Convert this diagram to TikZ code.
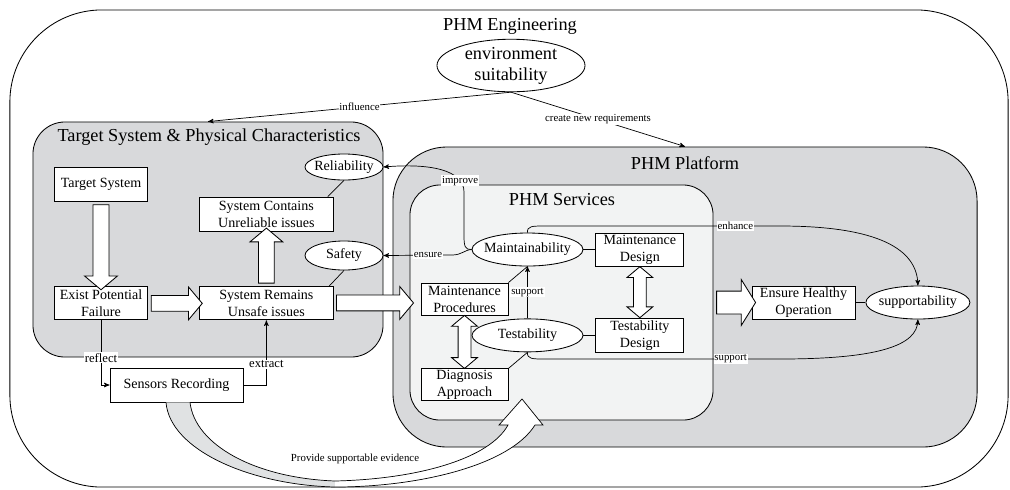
\documentclass[tikz,border=0pt]{standalone}
\usepackage{fontspec}
\setmainfont{Liberation Serif}
\usetikzlibrary{positioning,arrows,calc,shapes,shapes.geometric,shapes.arrows}

\definecolor{platgray}{RGB}{216,217,219}
\definecolor{servgray}{RGB}{242,243,243}
\definecolor{bandgray}{RGB}{224,226,227}

\begin{document}
\begin{tikzpicture}[>=stealth',
  x=0.025cm,y=-0.025cm,line width=0.6pt,align=center,
  area/.style={draw,rectangle,inner sep=0pt},
  box/.style={draw,rectangle,inner sep=1pt,fill=white,font=\fontsize{10}{12}\selectfont},
  oval/.style={draw,ellipse,inner ysep=0pt,inner xsep=-3pt,fill=white,font=\fontsize{10}{12}\selectfont},
  title/.style={font=\fontsize{13}{15}\selectfont},
  lbl/.style={fill=white,inner sep=0.6pt,font=\fontsize{7.7}{9}\selectfont},
  biglbl/.style={lbl,font=\fontsize{9}{10}\selectfont},
  link/.style={line width=0.5pt},
  fat/.style={draw,fill=white,single arrow,inner sep=0pt,text height=0.375cm,text depth=0pt,
    single arrow head extend=0.2125cm,single arrow tip angle=100},
  fatboth/.style={draw,fill=white,double arrow,inner sep=0pt,text height=0.3cm,text depth=0pt,
    double arrow head extend=0.1625cm,double arrow tip angle=100}
  ]
  \useasboundingbox (0,0) rectangle (1010,489);

  % containers
  \node[area,rounded corners=2.3cm,minimum width=24.95cm,minimum height=11.925cm] (phmeng) at (509,248.5) {};
  \node[title] at (510,26) {PHM Engineering};
  \node[area,fill=platgray,rounded corners=0.8cm,minimum width=8.75cm,minimum height=5.875cm] (tsbox) at (208,239.5) {};
  \node[title] at (209,137) {Target System \& Physical Characteristics};
  \node[area,fill=platgray,rounded corners=1.35cm,minimum width=14.6cm,minimum height=7.5cm] (platbox) at (685,297) {};
  \node[title] at (685,163) {PHM Platform};
  \node[area,fill=servgray,rounded corners=0.75cm,minimum width=7.575cm,minimum height=5.875cm] (servbox) at (561.5,302.5) {};
  \node[title] at (562,200) {PHM Services};

  \node[oval,title,minimum width=3.7cm,minimum height=1.3cm] (envsuit) at (511,65.5) {environment\\suitability};

  % target system side
  \node[box,minimum width=2.325cm,minimum height=0.85cm] (target) at (101,184) {Target System};
  \node[box,minimum width=2.325cm,minimum height=0.825cm,below=2.125cm of target] (failure) {Exist Potential\\Failure};
  \node[box,minimum width=3.35cm,minimum height=0.825cm,right=1.275cm of failure] (unsafe) {System Remains\\Unsafe issues};
  \node[box,minimum width=3.35cm,minimum height=0.85cm,above=1.375cm of unsafe] (unreliable) {System Contains\\Unreliable issues};
  \node[oval,minimum width=1.95cm,minimum height=0.65cm] (reliab) at (344,167) {Reliability};
  \node[oval,minimum width=1.95cm,minimum height=0.725cm] (safety) at (344,255.5) {Safety};
  \node[box,minimum width=3.325cm,minimum height=0.85cm] (sensors) at (176.5,385) {Sensors Recording};

  % services side
  \node[oval,minimum width=2.775cm,minimum height=0.825cm] (maint) at (527.5,249.5) {Maintainability};
  \node[box,minimum width=2.2cm,minimum height=0.825cm,right=0.3cm of maint] (mdesign) {Maintenance\\Design};
  \node[oval,minimum width=2.775cm,minimum height=0.825cm,below=1.3cm of maint] (testab) {Testability};
  \node[box,minimum width=2.2cm,minimum height=0.85cm,right=0.3cm of testab] (tdesign) {Testability\\Design};
  \node[box,minimum width=2.175cm,minimum height=0.8cm] (procs) at (464.5,299) {Maintenance\\Procedures};
  \node[box,minimum width=2.175cm,minimum height=0.8cm,below=1.325cm of procs] (diag) {Diagnosis\\Approach};
  \node[box,minimum width=2.575cm,minimum height=0.825cm] (healthy) at (803.5,302.5) {Ensure Healthy\\Operation};
  \node[oval,minimum width=2.6cm,minimum height=0.825cm,right=0.25cm of healthy] (suppty) {supportability};

  % hollow arrows
  \node[fat,rotate=-90,minimum height=2.125cm] at ($(target.south)!0.5!(failure.north)$) {};
  \node[fat,minimum height=1.275cm] at ($(failure.east)!0.5!(unsafe.west)$) {};
  \node[fat,rotate=90,minimum height=1.375cm] at ($(unsafe.north)!0.5!(unreliable.south)$) {};
  \node[fat,minimum height=1.925cm] at ($(unsafe.east)!0.5!(servbox.west)$) {};
  \node[fat,text height=0.55cm,single arrow head extend=0.2875cm,single arrow tip angle=116,
    minimum height=0.975cm] at ($(servbox.east)!0.5!(healthy.west)$) {};
  \node[fatboth,rotate=90,minimum height=1.275cm] at ($(mdesign.south)!0.5!(tdesign.north)$) {};
  \node[fatboth,rotate=90,minimum height=1.325cm] at ($(procs.south)!0.5!(diag.north)$) {};

  % plain links
  \draw[link] (reliab.south) -- ([xshift=-0.15cm]unreliable.north east);
  \draw[link] (safety.south) -- ([xshift=-0.125cm]unsafe.north east);
  \draw[link] (maint) -- (mdesign);
  \draw[link] (testab) -- (tdesign);
  \draw[link] (healthy) -- (suppty);
  \draw[link] (procs.north east) -- (maint.south);
  \draw[link] (diag.north east) -- (testab.south);
  \draw[->,link] (testab.north) -- node[lbl]{support} (maint.south);

  % labelled links
  \draw[->,link] (envsuit.south) -- node[lbl]{influence} (tsbox.north);
  \draw[->,link] (envsuit.south) -- node[lbl]{create new requirements} (platbox.north);
  \draw[->,link] (failure.south) |- node[biglbl,pos=0.29]{reflect} (sensors.west);
  \draw[->,link] (sensors.east) -| node[biglbl,pos=0.66]{extract} (unsafe.south);
  \draw[->,link] (maint.west) .. controls (465,250) and (464,246) .. (464,236) -- (464,192)
    .. controls (464,170) and (430,163) .. node[lbl,pos=0.2]{improve} (reliab.east);
  \draw[->,link] (maint.west) .. controls (464,250) and (462,255) .. (452,255)
    -- node[lbl,pos=0.35]{ensure} (safety.east);
  \draw[->,link] (maint.north) .. controls (527,226) and (532,226) .. (545,226)
    -- node[lbl,pos=0.81]{enhance} (780,226) .. controls (880,226) and (917,250) .. (suppty.north);
  \draw[->,link] (testab.south) .. controls (527,359) and (532,359) .. (545,359)
    -- node[lbl,pos=0.79]{support} (780,359) .. controls (880,359) and (917,345) .. (suppty.south);

  % evidence band
  \coordinate (evtip) at (522,399);
  \fill[bandgray] ($(sensors.south)+(-10.5,0)$) .. controls (170,450) and (250,485) .. (335,487)
    -- (335,481) .. controls (255,478) and (195,445) .. ($(sensors.south)+(13.5,0)$) -- cycle;
  \fill[white] (335,487) .. controls (420,487) and (510,465) .. (535,425) -- (543,425) -- (evtip)
    -- (499,425) -- (508,425) .. controls (490,458) and (420,479) .. (335,481) -- cycle;
  \draw[link] ($(sensors.south)+(-10.5,0)$) .. controls (170,450) and (250,485) .. (335,487)
    .. controls (420,487) and (510,465) .. (535,425) -- (543,425) -- (evtip) -- (499,425) -- (508,425)
    .. controls (490,458) and (420,479) .. (335,481) .. controls (255,478) and (195,445) .. ($(sensors.south)+(13.5,0)$);
  \node[font=\fontsize{7.7}{9}\selectfont] (evid) at (355,459) {Provide supportable evidence};
\end{tikzpicture}
\end{document}
